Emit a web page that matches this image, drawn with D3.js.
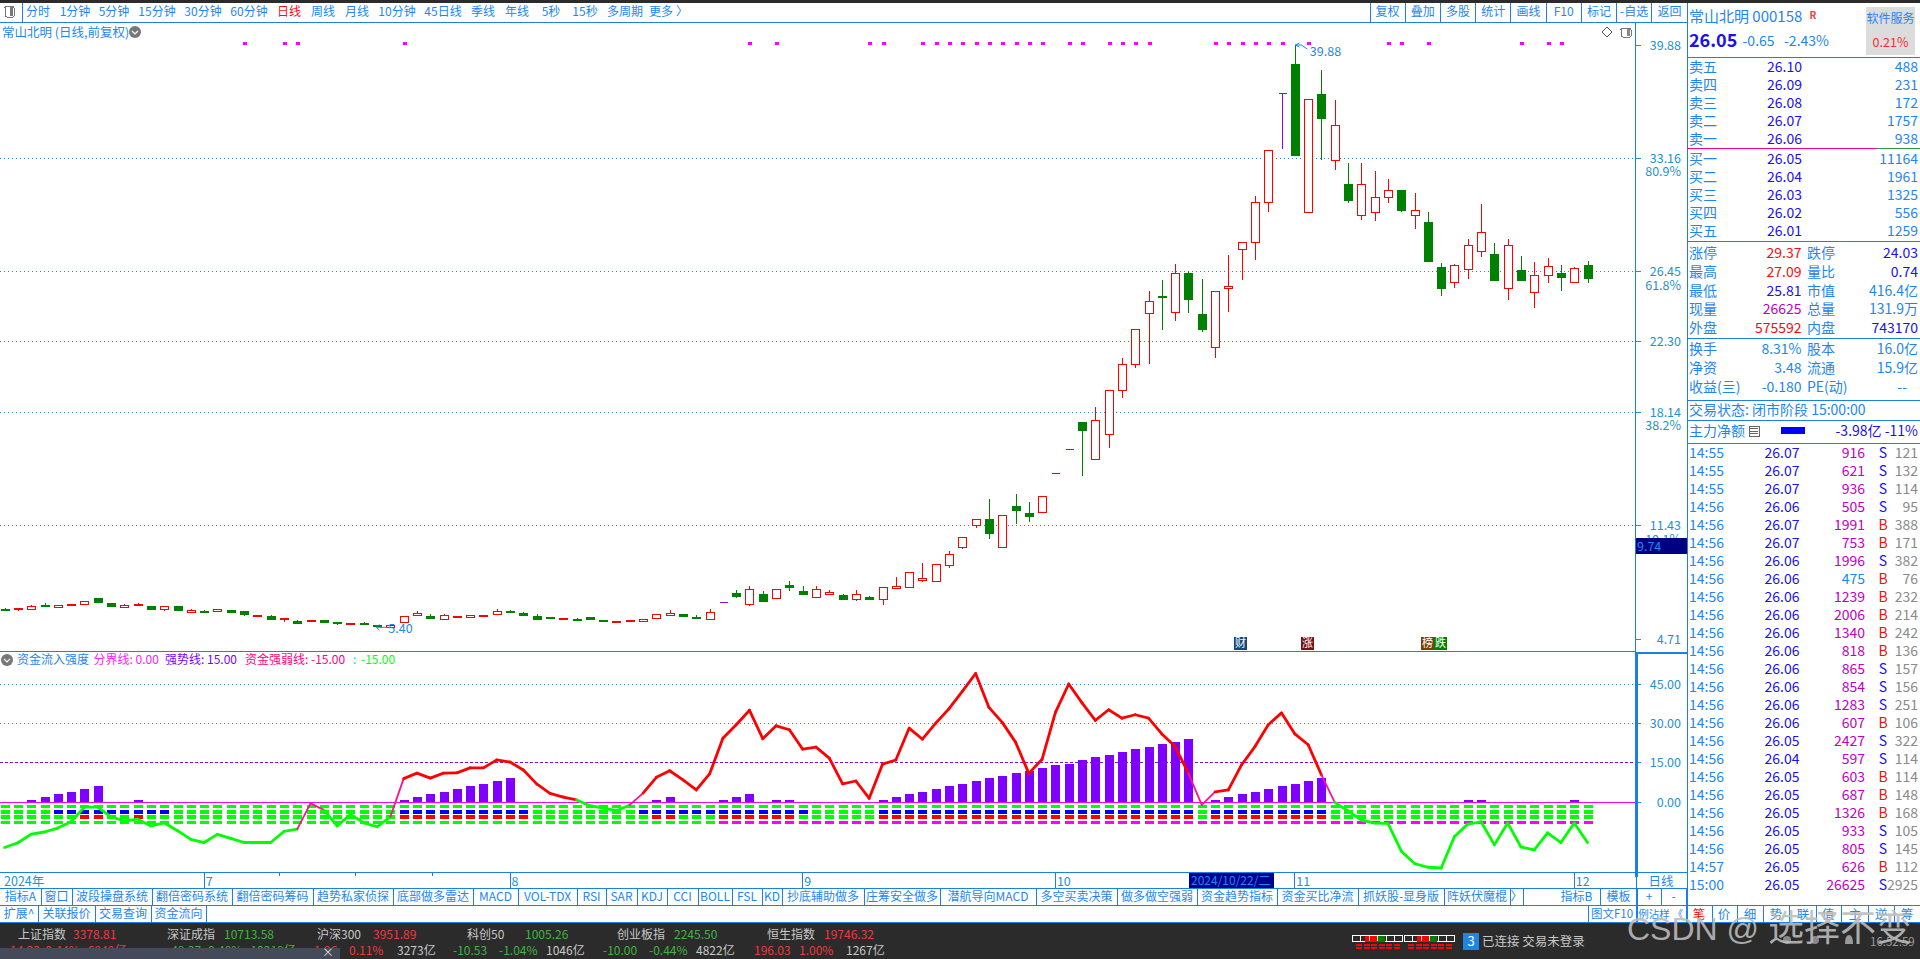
<!DOCTYPE html>
<html><head><meta charset="utf-8"><style>html,body{margin:0;padding:0;background:#fff;overflow:hidden}svg{display:block}text{white-space:pre}</style>
<script src="https://cdn.jsdelivr.net/npm/d3@7"></script></head><body><svg id="c" width="1920" height="959"></svg>
<script>
const opens=[6.49,6.45,6.47,6.72,6.63,6.69,6.76,7.12,6.82,6.57,6.69,6.67,6.47,6.67,6.27,6.37,6.33,6.41,6.35,6.07,6.07,5.86,5.78,5.74,5.82,5.70,5.56,5.66,5.54,5.44,5.76,6.09,6.07,5.88,6.03,6.03,6.03,6.15,6.35,6.25,6.07,5.99,5.92,5.88,5.99,5.82,5.74,5.74,5.80,5.93,6.09,6.17,6.01,5.85,6.90,7.41,6.82,7.37,7.12,7.91,7.55,7.22,7.41,7.32,7.06,7.20,7.06,7.73,7.77,8.20,8.11,9.05,10.14,11.42,11.82,10.14,12.59,12.17,12.21,14.52,15.94,17.56,15.35,16.83,19.43,20.97,23.99,25.02,24.03,26.38,23.95,21.98,25.47,27.78,28.19,30.57,37.02,38.75,29.95,36.98,33.07,31.65,29.81,29.97,30.84,31.29,29.77,29.40,26.74,25.85,26.60,27.64,27.50,25.47,26.56,25.22,26.24,26.38,25.81,26.83];
const closes=[6.45,6.53,6.67,6.69,6.72,6.76,6.94,6.90,6.67,6.70,6.76,6.51,6.65,6.45,6.41,6.33,6.47,6.31,6.15,6.11,5.92,5.93,5.68,5.82,5.72,5.62,5.64,5.62,5.50,5.54,6.09,6.23,5.97,6.11,6.05,6.15,6.11,6.35,6.31,6.15,5.92,5.95,5.93,5.84,5.86,5.78,5.76,5.82,5.92,6.17,6.23,6.03,5.97,6.29,6.90,7.22,7.69,6.98,7.65,7.79,7.39,7.69,7.51,7.10,7.35,7.08,7.77,7.85,8.66,8.32,9.13,9.72,10.73,11.80,11.01,12.03,12.35,12.00,13.16,14.52,15.94,17.11,17.66,19.43,20.97,23.05,24.70,24.94,26.36,24.86,23.08,25.32,25.59,28.19,30.57,33.64,37.02,33.37,36.66,35.56,35.14,30.70,31.65,30.86,31.27,30.11,30.09,27.09,25.51,26.83,28.02,28.79,25.97,28.02,25.97,26.24,26.78,26.16,26.66,26.05];
const highs=[6.55,6.53,6.72,6.84,6.72,6.76,6.94,7.12,6.82,6.76,6.82,6.67,6.65,6.67,6.49,6.43,6.47,6.41,6.35,6.11,6.13,5.93,5.82,5.82,5.82,5.70,5.64,5.72,5.54,5.54,6.09,6.35,6.17,6.17,6.05,6.15,6.11,6.47,6.41,6.33,6.17,5.99,5.93,5.95,5.99,5.82,5.76,5.82,5.92,6.17,6.43,6.17,6.13,6.47,6.90,7.59,7.85,7.55,7.65,8.14,7.85,7.85,7.61,7.37,7.61,7.26,7.77,8.38,8.66,9.21,9.13,9.92,10.73,11.80,12.98,12.03,13.30,12.82,13.16,14.52,15.94,17.56,18.45,19.43,21.35,23.05,25.31,25.97,26.91,26.50,26.03,25.32,27.45,28.19,30.94,33.64,37.02,39.88,36.66,38.40,36.62,32.89,32.89,32.42,31.94,31.29,31.12,29.99,26.99,26.89,28.39,30.47,28.16,28.39,27.39,27.03,27.27,26.85,26.76,27.09];
const lows=[6.39,6.37,6.47,6.67,6.63,6.69,6.76,6.84,6.61,6.57,6.69,6.45,6.37,6.45,6.27,6.27,6.33,6.31,6.07,6.03,5.92,5.72,5.62,5.74,5.72,5.54,5.56,5.56,5.50,5.40,5.76,6.09,5.97,5.88,6.03,6.03,6.03,6.15,6.31,6.15,5.92,5.90,5.92,5.78,5.86,5.72,5.74,5.74,5.80,5.93,6.09,6.03,5.97,5.85,6.90,7.14,6.67,6.98,7.12,7.57,7.32,7.16,7.41,7.10,6.98,7.02,6.74,7.73,7.77,8.09,8.11,8.91,10.04,11.30,10.65,10.14,11.52,11.64,12.21,14.52,15.94,14.36,15.35,16.04,19.00,20.78,21.01,23.03,23.56,24.03,22.89,21.35,24.07,25.97,27.15,30.01,33.74,33.37,29.95,33.07,32.48,30.52,29.52,29.46,30.54,29.99,28.99,27.09,25.02,25.51,26.04,27.33,25.97,24.78,25.97,24.31,25.79,25.31,25.81,25.81];
const signalDays=[18,21,22,30,56,58,65,66,69,70,71,72,73,74,75,76,77,78,80,81,83,84,85,86,91,92,93,94,95,96,98,104,105,107,114,116,117];
const priceTicks=[39.88,33.16,26.45,22.30,18.14,11.43,4.71];
const gridPrices=[33.16,26.45,22.30,18.14,11.43];
const pctTicks=[["80.9%",33.16],["61.8%",26.45],["38.2%",18.14],["19.1%",11.43]];
const strength=[-17.2,-15.4,-12.1,-11.3,-9.8,-7.4,-1.8,-1.8,-5.5,-7.1,-6.4,-9,-7.8,-10.8,-14.1,-15.3,-12.2,-13.7,-15.3,-15.3,-15.3,-11.1,-10.2,-0.4,-2.9,-9,-4.6,-7.8,-9.3,-5.5,9,11.1,9.2,11.1,11.2,13.1,13.1,16.1,15.3,12.3,7,3.4,2,0.9,-1.3,-2.2,-3.2,-1,3.5,9.5,12,8.5,4.7,10.8,24.4,29.5,35,24.2,29.1,27.6,20.2,21,16.8,7,8.1,1.5,14.5,16.1,28.2,24,30.1,35.6,42.2,49,36.1,30.4,22.9,11,16.4,34.2,45,37.8,31.2,35.2,32,33.3,32,26,21.2,11,-1,4,4.7,14.3,21.2,29.5,34,26,21.9,10.4,0,-3.3,-6.8,-7.9,-8,-18.6,-23.3,-24.7,-25,-13,-8.3,-7.4,-16.2,-7.9,-17,-18.1,-11.6,-15.3,-7.9,-15.3];
const crossingSegments=[22,23,29,47,89,90,99];
const flowBars=[[2,.9],[3,2],[4,3.2],[5,3.9],[6,5.1],[7,6.2],[10,.9],[30,.9],[31,2],[32,3.2],[33,3.9],[34,5.1],[35,6.2],[36,7],[37,8.1],[38,9.3],[49,.9],[50,2],[54,.9],[55,2],[56,3.2],[58,.9],[59,.9],[66,.9],[67,2],[68,3.2],[69,3.9],[70,5.1],[71,6.2],[72,7],[73,8.1],[74,9.3],[75,10],[76,11.2],[77,12],[78,13.1],[79,14.2],[80,14.6],[81,16.1],[82,17.3],[83,18],[84,19.2],[85,20.3],[86,21.1],[87,22.2],[88,23],[89,24.2],[91,.9],[92,2],[93,3.2],[94,3.9],[95,5.1],[96,6.2],[97,7],[98,8.1],[99,9.3],[110,.9],[111,.9],[118,.9]];
const blueDays=[4,5,6,7,8,9,10,11,12,30,31,32,33,34,35,36,37,38,39,48,49,50,51,52,53,54,55,56,57,58,59,60,66,67,68,69,70,71,72,73,74,75,76,77,78,79,80,81,82,83,84,85,86,87,88,89,91,92,93,94,95,96,97,98,99];
const redDays=[6,7,10,30,31,32,33,34,35,36,37,38,39,49,50,54,55,56,57,58,59,66,67,68,69,70,71,72,73,74,75,76,77,78,79,80,81,82,83,84,85,86,87,88,89,91,92,93,94,95,96,97,98,99];
const pinkDays=d3.range(54,120);
const indTicks=[45,30,15,0];
const minorIndTicks=[37.5,22.5,7.5];
const monthLabels=[["7",15],["8",38],["9",60],["10",79],["11",97],["12",118]];
const minorDateTicks=[20.7,26.4,32.2];
const toolbarItems=[["分时",38],["1分钟",75],["5分钟",114],["15分钟",157],["30分钟",203],["60分钟",249],["日线",289],["周线",323],["月线",357],["10分钟",397],["45日线",443],["季线",483],["年线",517],["5秒",551],["15秒",585],["多周期",625],["更多",661],["〉",682]];
const rightButtons=["复权","叠加","多股","统计","画线","F10","标记","-自选","返回"];
const tabsRow1=[["指标A",41],["窗口",72],["波段操盘系统",152],["翻倍密码系统",232],["翻倍密码筹码",313],["趋势私家侦探",393],["底部做多雷达",473],["MACD",518],["VOL-TDX",577],["RSI",606],["SAR",637],["KDJ",667],["CCI",698],["BOLL",732],["FSL",762],["KD",782],["抄底辅助做多",864],["庄筹安全做多",940],["潜航导向MACD",1036],["多空买卖决策",1117],["做多做空强弱",1197],["资金趋势指标",1277],["资金买比净流",1358],["抓妖股-显身版",1444],["阵妖伏魔棍",1510],["〉",1523]];
const tabsRow1Right=[["指标B",1553,1600],["模板",1600,1637],["+",1637,1661],["-",1661,1686]];
const tabsRow2=[["扩展^",38],["关联报价",95],["交易查询",151],["资金流向",206]];
const sideTabs=[["笔",1699],["价",1724],["细",1750],["势",1776],["联",1803],["值",1828],["主",1855],["逆",1881],["筹",1907]];
const indexNames=[["上证指数",18,"3378.81",73,1],["深证成指",167,"10713.58",224,0],["沪深300",317,"3951.89",373,1],["科创50",467,"1005.26",525,0],["创业板指",617,"2245.50",674,0],["恒生指数",767,"19746.32",824,1]];
const indexRow2=[["0.11%",349,1],["3273亿",397,2],["-10.53",453,0],["-1.04%",499,0],["1046亿",546,2],["-10.00",603,0],["-0.44%",649,0],["4822亿",696,2],["196.03",754,1],["1.00%",799,1],["1267亿",846,2]];
const askRows=[["卖五","26.10","488"],["卖四","26.09","231"],["卖三","26.08","172"],["卖二","26.07","1757"],["卖一","26.06","938"]];
const bidRows=[["买一","26.05","11164"],["买二","26.04","1961"],["买三","26.03","1325"],["买四","26.02","556"],["买五","26.01","1259"]];
const statRows=[["涨停","29.37","跌停","24.03",1,3],["最高","27.09","量比","0.74",1,3],["最低","25.81","市值","416.4亿",3,0],["现量","26625","总量","131.9万",2,0],["外盘","575592","内盘","743170",1,3]];
const infoRows=[["换手","8.31%","股本","16.0亿"],["净资","3.48","流通","15.9亿"],["收益(亖)","-0.180","PE(动)","--"]];
const trades=[["14:55","26.07","916","S","121"],["14:55","26.07","621","S","132"],["14:55","26.07","936","S","114"],["14:56","26.06","505","S","95"],["14:56","26.07","1991","B","388"],["14:56","26.07","753","B","171"],["14:56","26.06","1996","S","382"],["14:56","26.06","475","B","76"],["14:56","26.06","1239","B","232"],["14:56","26.06","2006","B","214"],["14:56","26.06","1340","B","242"],["14:56","26.06","818","B","136"],["14:56","26.06","865","S","157"],["14:56","26.06","854","S","156"],["14:56","26.06","1283","S","251"],["14:56","26.06","607","B","106"],["14:56","26.05","2427","S","322"],["14:56","26.04","597","S","114"],["14:56","26.05","603","B","114"],["14:56","26.05","687","B","148"],["14:56","26.05","1326","B","168"],["14:56","26.05","933","S","105"],["14:56","26.05","805","S","145"],["14:57","26.05","626","B","112"],["15:00","26.05","26625","S","2925"]];

const svg=d3.select("#c");
const FONT='"Noto Sans CJK SC","Noto Sans",sans-serif';
const BLUE="#1b7fe8",TXT="#1e86f0",AX="#2492d0",NAVY="#1a10f0";
const x=d3.scaleLinear().domain([0,119]).range([4.6,1587.5]);
const yP=d3.scaleLinear().domain([4.71,39.88]).range([639,45]);
const yI=d3.scaleLinear().domain([0,45]).range([802.3,684]);
function T(px,py,s,fill,size=13,anchor="start",weight=400,g=svg){return g.append("text").attr("x",px).attr("y",py).attr("dy","0.36em").attr("fill",fill).attr("font-size",size).attr("font-family",FONT).attr("font-weight",weight).attr("text-anchor",anchor).text(s);}
function L(a,b,c,d,col=BLUE,w=1,g=svg){return g.append("line").attr("x1",a).attr("y1",b).attr("x2",c).attr("y2",d).attr("stroke",col).attr("stroke-width",w).attr("shape-rendering","crispEdges");}
function R(a,b,w,h,f,g=svg){return g.append("rect").attr("x",a).attr("y",b).attr("width",w).attr("height",h).attr("fill",f).attr("shape-rendering","crispEdges");}

R(0,0,1920,2.5,"#2b2b2b");
R(5,6,9,11,"none").attr("stroke","#777").attr("rx",1.5);R(9.5,7,3.5,9,"#777");
L(22,3,22,22,BLUE);
toolbarItems.forEach(([s,c])=>T(c,12,s,s==="日线"?"#f01010":TXT,12,"middle"));
L(0,22.5,1687,22.5,BLUE);
const btnX=d3.scaleLinear().domain([0,9]).range([1370,1687]);
rightButtons.forEach((s,i)=>{L(btnX(i),3,btnX(i),22,BLUE);T((btnX(i)+btnX(i+1))/2,12,s,TXT,12,"middle");});

T(2,32,"常山北明 (日线,前复权)",TXT,12.5);
svg.append("circle").attr("cx",135).attr("cy",32).attr("r",6).attr("fill","#777");
svg.append("path").attr("d","M132 31 l3 3 l3 -3").attr("stroke","#fff").attr("fill","none").attr("stroke-width",1.2);
svg.append("path").attr("d","M1607 27 l5 5 l-5 5 l-5 -5 z").attr("stroke","#555").attr("fill","none");
R(1621,28,10,9,"none").attr("stroke","#777").attr("rx",1.5);R(1627,29,3,7,"#888");

const dot="1 3";
gridPrices.forEach(v=>L(0,yP(v),1635,yP(v),"#0a8cff",1).attr("stroke-dasharray",dot));
priceTicks.forEach(v=>{
  L(1636,yP(v),1641,yP(v),AX);
  T(1681,yP(v),v.toFixed(2),AX,12.5,"end");
});
pctTicks.forEach(([s,v])=>T(1681,yP(v)+13.5,s,AX,12.5,"end"));
L(1635.5,22,1635.5,877,BLUE);
L(0,651.7,1636,651.7,BLUE);

svg.append("g").selectAll("rect").data(signalDays).join("rect").attr("x",d=>Math.round(x(d))-1).attr("y",41.5).attr("width",3.5).attr("height",3.5).attr("fill","#ff00ff").attr("shape-rendering","crispEdges");

const idx=d3.range(opens.length);
const col=i=>opens[i]===closes[i]?"#7b10e0":closes[i]>opens[i]?"#ff0000":"#008000";
const cg=svg.append("g").attr("shape-rendering","crispEdges");
cg.selectAll("line").data(idx).join("line").attr("x1",i=>Math.round(x(i))+.5).attr("x2",i=>Math.round(x(i))+.5).attr("y1",i=>yP(highs[i])).attr("y2",i=>yP(lows[i])).attr("stroke",col);
cg.selectAll("rect").data(idx.filter(i=>opens[i]!==closes[i])).join("rect")
 .attr("x",i=>Math.round(x(i))-3.5).attr("width",8)
 .attr("y",i=>Math.round(yP(Math.max(opens[i],closes[i])))+.5)
 .attr("height",i=>Math.max(1,Math.round(Math.abs(yP(opens[i])-yP(closes[i])))))
 .attr("fill",i=>closes[i]>opens[i]?"#fff":"#008000").attr("stroke",col);
cg.selectAll("path").data(idx.filter(i=>opens[i]===closes[i])).join("path")
 .attr("d",i=>`M${Math.round(x(i))-3.5} ${Math.round(yP(closes[i]))+.5}h8`).attr("stroke",col).attr("fill","none");

const maxI=highs.indexOf(d3.max(highs)),minI=lows.indexOf(d3.min(lows));
svg.append("path").attr("d",`M${x(maxI)+.5} ${yP(39.88)}l4 -2m-4 2l4 2m-4 -2h6l6 4`).attr("stroke",TXT).attr("fill","none");
T(x(maxI)+15,yP(39.88)+6,"39.88",TXT,12.5);
svg.append("path").attr("d",`M${x(minI)-3} ${yP(5.40)}h-11l3 -3m-3 3l3 3`).attr("stroke",TXT).attr("fill","none");
T(x(minI)-2,yP(5.40)+1,"5.40",TXT,12.5);

function badge(i0,bg,s){R(i0,637,13,13,bg);T(i0+6.5,643.5,s,"#fff",11,"middle");}
badge(1234,"#16467e","财");badge(1301,"#7a1010","涨");badge(1421,"#7a4000","榜");badge(1434,"#008000","跌");

R(1636,538,50.5,16,"#000080");
T(1637,546,"9.74",TXT,12.5);

svg.append("circle").attr("cx",7).attr("cy",660).attr("r",6).attr("fill","#777");
svg.append("path").attr("d","M4 659 l3 3 l3 -3").attr("stroke","#fff").attr("fill","none").attr("stroke-width",1.2);
T(17,660,"资金流入强度",TXT,12);
T(93.5,660,"分界线: 0.00","#ff20ff",12);
T(165,660,"强势线: 15.00","#8000ff",12);
T(245,660,"资金强弱线: -15.00","#ff0080",12);
T(353,660,":","#10d0a0",12);
T(361,660,"-15.00","#00ff00",12);

indTicks.forEach(v=>{
  if(v===45||v===30) L(0,yI(v),1635,yI(v),"#0a8cff").attr("stroke-dasharray",dot);
  if(v===15) L(0,yI(v),1635,yI(v),"#7b10e0").attr("stroke-dasharray","3 2");
  L(1636,yI(v),1641,yI(v),AX);
  T(1681,yI(v),v.toFixed(2),AX,12.5,"end");
});
minorIndTicks.forEach(v=>L(1636,yI(v),1638,yI(v),AX));
R(1636,652,2,225,"#1b7fe8");R(1636,652,51,2,"#1b7fe8");

const bw=9;
function stripe(hi,lo,colorOf){svg.append("g").selectAll("rect").data(idx).join("rect").attr("x",i=>Math.round(x(i))-4).attr("width",bw).attr("y",yI(hi)).attr("height",yI(lo)-yI(hi)).attr("fill",colorOf).attr("shape-rendering","crispEdges");}
stripe(-1,-2,()=>"#00ff00");
stripe(-2.95,-4.5,i=>blueDays.includes(i)?"#0000ff":"#00ff00");
stripe(-4.85,-6.4,i=>redDays.includes(i)?"#ff0000":"#00ff00");
stripe(-7.05,-8.2,i=>pinkDays.includes(i)?"#ff00ff":"#00ff00");
svg.append("g").selectAll("rect").data(flowBars).join("rect").attr("x",d=>Math.round(x(d[0]))-4).attr("width",bw).attr("y",d=>yI(d[1])).attr("height",d=>yI(0)-yI(d[1])).attr("fill","#8000ff").attr("shape-rendering","crispEdges");
L(0,yI(0),1635,yI(0),"#ff00ff");
const lineColor=i=>crossingSegments.includes(i)?"#ff1090":(strength[i]>=0&&strength[i+1]>=0?"#ff0000":"#00ff00");
svg.append("g").selectAll("line").data(idx.slice(0,-1)).join("line").attr("x1",i=>x(i)).attr("x2",i=>x(i+1)).attr("y1",i=>yI(strength[i])).attr("y2",i=>yI(strength[i+1])).attr("stroke",lineColor).attr("stroke-width",i=>crossingSegments.includes(i)?1.8:2.8).attr("stroke-linecap","round");

L(0,872.5,1687,872.5,BLUE);
T(4,881,"2024年",AX,12.5);
monthLabels.forEach(([s,i])=>{L(x(i),873,x(i),888,BLUE);T(x(i)+1.5,881,s,AX,12.5);});
minorDateTicks.forEach(i=>L(x(i),873,x(i),876,BLUE));
R(1189,873,85,15,"#000090");T(1191,881,"2024/10/22/二",TXT,12);
L(1636.5,873,1636.5,923,BLUE);
T(1661,881,"日线",TXT,12.5,"middle");

L(0,888,1687,888,BLUE);L(0,905.7,1920,905.7,BLUE);
let prev=0;
tabsRow1.forEach(([s,e])=>{T((prev+e)/2,897,s,TXT,12,"middle");L(e,888,e,905,BLUE);prev=e;});
tabsRow1Right.forEach(([s,a,b])=>{T((a+b)/2,897,s,TXT,12,"middle");L(b,888,b,905,BLUE);});
prev=0;
tabsRow2.forEach(([s,e])=>{T((prev+e)/2,914,s,TXT,12,"middle");L(e,906,e,922,BLUE);prev=e;});
L(1588,906,1588,922,BLUE);T(1612,914,"图文F10",TXT,11.5,"middle");L(1637,906,1637,922,BLUE);T(1654,914,"例沾样",TXT,10.5,"middle");L(1686,906,1686,922,BLUE);
T(1678,914,"《",TXT,10,"middle");
sideTabs.forEach(([s,c])=>{T(c,914,s,s==="笔"?"#f01010":TXT,12.5,"middle");L(c+13,906,c+13,922,BLUE);});
L(0,922.7,1920,922.7,BLUE);

R(0,923,1920,36,"#2b2b2b");
const RED="#ef3a3a",GRN="#3fb53f",GREY="#c8c8c8";
indexNames.forEach(([n,a,v,b,up])=>{T(a,935,n,GREY,12);T(b,935,v,up?RED:GRN,12);});
indexRow2.forEach(([s,a,c])=>T(a,950.5,s,c===1?RED:c===0?GRN:GREY,12));
T(10,950.5,"14.23  0.44%   6949亿",RED,12);T(167,950.5,"-48.37 -0.48%   10218亿",GRN,12);T(314,950.5,"1.96",RED,12);
R(0,947.5,340,12,"#454a5a");T(328,953,"×","#ddd",12,"middle");
function levelBox(a){R(a,935,50,6.5,"none").attr("stroke","#fff");R(a+12.5,935.5,12,6,"#ff0000");R(a+24.5,935.5,8,6,"#008000");d3.range(0,6).forEach(k=>{R(a+4+k*7.5,944,6,2,"#ff0000");R(a+4+k*7.5,947,6,2,"#ff0000");L(a+8.5*k,935,a+8.5*k,941,"#fff");});}
levelBox(1352);levelBox(1404);
R(1463,933,16,17,"#1f86e0");T(1471,941.5,"3","#fff",13,"middle");
T(1482,941.5,"已连接 交易未登录",GREY,12.5);
T(1870,942,"16:52:59","#9a9a9a",11.5);
svg.append("path").attr("d","M1845 944 q0 -9 4 -9 q4 0 4 9 z").attr("fill","#999");
svg.append("circle").attr("cx",1787).attr("cy",940).attr("r",4).attr("fill","#888");
svg.append("circle").attr("cx",1815).attr("cy",940).attr("r",4).attr("fill","#888");

L(1687,3,1687,923,BLUE);
T(1689,17,"常山北明 000158",TXT,15);
T(1813,15,"R","#f04040",10,"middle",700);
T(1689,41,"26.05",NAVY,18,"start",700);
T(1742.5,41,"-0.65",TXT,14);
T(1784,41,"-2.43%",TXT,14);
R(1866,7,49,48,"#dcdcdc");T(1890.5,19,"软件服务",TXT,12,"middle");T(1890.5,42,"0.21%","#f03030",12.5,"middle");
L(1687,57.5,1920,57.5,BLUE);
askRows.forEach((r,i)=>{const y=67+i*18;T(1689,y,r[0],TXT,14);T(1784.5,y,r[1],NAVY,14,"middle");T(1918,y,r[2],TXT,14,"end");});
L(1687,148,1877,148,"#ff0080");L(1877,148,1920,148,"#2e9a40");
bidRows.forEach((r,i)=>{const y=159+i*18;T(1689,y,r[0],TXT,14);T(1784.5,y,r[1],NAVY,14,"middle");T(1918,y,r[2],TXT,14,"end");});
L(1687,241.5,1920,241.5,BLUE);
const statCol=["#0a8cff","#f01010","#c000c0",NAVY];
const S=c=>c===0?TXT:statCol[c];
statRows.forEach((r,i)=>{const y=253+i*18.8;T(1689,y,r[0],TXT,14);T(1801.5,y,r[1],S(r[4]),14,"end");T(1807,y,r[2],TXT,14);T(1918,y,r[3],S(r[5]),14,"end");});
L(1687,338,1920,338,BLUE);
infoRows.forEach((r,i)=>{const y=349+i*19;T(1689,y,r[0],TXT,14);T(1801.5,y,r[1],TXT,14,"end");T(1807,y,r[2],TXT,14);T(r[3]==="--"?1907:1918,y,r[3],TXT,14,"end");});
L(1687,400,1920,400,BLUE);
T(1689,410,"交易状态: 闭市阶段 15:00:00",TXT,14);
L(1687,420.5,1920,420.5,BLUE);
T(1689,431,"主力净额",TXT,14);
R(1749,426,10,10,"none").attr("stroke","#666");
[428.5,431,433.5].forEach(v=>L(1750,v,1758,v,"#666"));
R(1781,427,24,7,"#0000ff");
T(1918,431,"-3.98亿 -11%",NAVY,14,"end");
L(1687,443,1920,443,BLUE);
trades.forEach((r,i)=>{const y=452.7+i*18;
  T(1689,y,r[0],TXT,14);T(1782,y,r[1],NAVY,14,"middle");
  const v=+r[2];T(1865,y,r[2],v>=500?"#c000c0":TXT,14,"end");
  T(1883,y,r[3],r[3]==="S"?NAVY:"#f01010",14,"middle");
  T(1918,y,r[4],"#8a8a8a",14,"end");});

const W='"Liberation Sans","Noto Sans CJK SC",sans-serif';
T(1627,928,"CSDN @","#bdbdbd",32).attr("font-family",W).attr("opacity",.88);
T(1768,928,"选择不变","#bdbdbd",36).attr("opacity",.88);
</script></body></html>
